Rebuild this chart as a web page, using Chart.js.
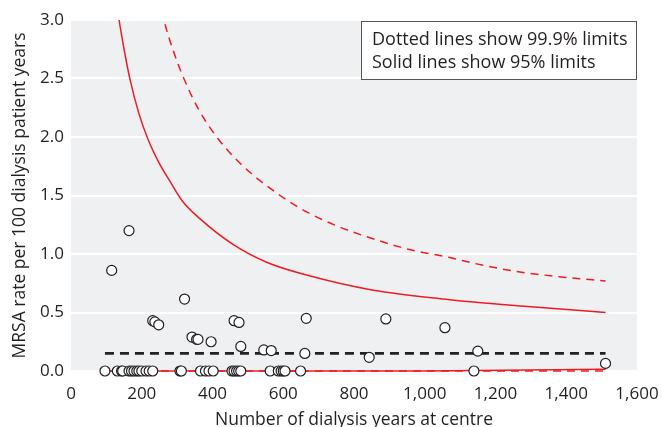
<!DOCTYPE html>
<html>
<head>
<meta charset="utf-8">
<script src="https://cdn.jsdelivr.net/npm/chart.js@4/dist/chart.umd.min.js"></script>
<style>
  body { margin: 0; background: #fff; }
  #wrap { width: 662px; height: 427px; }
</style>
</head>
<body>
<div id="wrap"><canvas id="graph1" width="662" height="427"></canvas></div>
<script>
// centres: dialysis years at centre vs MRSA rate
var centreYears = [164, 115, 321, 231, 237, 248, 342, 355, 359, 396, 461, 475, 480, 545, 566, 665, 661,
  890, 1057, 1150, 843, 1511,
  96, 131, 143, 146, 164, 171, 178, 186, 192, 200, 212, 221, 231, 308, 312, 366, 380, 390, 402,
  455, 461, 468, 474, 480, 563, 586, 594, 600, 605, 649, 1139];
var mrsaRates = [1.20, 0.86, 0.615, 0.43, 0.42, 0.395, 0.29, 0.27, 0.27, 0.25, 0.43, 0.415, 0.21, 0.18, 0.175, 0.45, 0.15,
  0.445, 0.37, 0.17, 0.117, 0.065,
  0, 0, 0, 0, 0, 0, 0, 0, 0, 0, 0, 0, 0, 0, 0, 0, 0, 0, 0,
  0, 0, 0, 0, 0, 0, 0, 0, 0, 0, 0, 0];

// overall mean
var meanYears = [96, 1511];
var meanRate = [0.15, 0.15];

// 95% limits (solid)
var years95 = [120, 136, 150, 167, 192, 219, 247, 280, 313, 365, 459, 553, 666, 855, 1071, 1137, 1300, 1511];
var upper95 = [3.35, 3.0, 2.75, 2.49, 2.20, 1.97, 1.79, 1.62, 1.46, 1.30, 1.08, 0.93, 0.82, 0.69, 0.61, 0.59, 0.55, 0.50];

// 99.9% limits (dotted)
var years999 = [250, 263, 290, 319, 360, 407, 478, 591, 666, 760, 864, 968, 1071, 1140, 1260, 1400, 1511];
var upper999 = [3.2, 3.0, 2.73, 2.50, 2.24, 2.02, 1.775, 1.50, 1.36, 1.23, 1.12, 1.03, 0.97, 0.92, 0.85, 0.80, 0.77];

// lower limits
var lowerYears = [96, 1000, 1511];
var lower95 = [0, 0, 0.015];
var lower999 = [0, 0, 0];

var legendLines = ['Dotted lines show 99.9% limits', 'Solid lines show 95% limits'];

var FONT = 'Open Sans';
var TEXT = '#231f20';
var RED = 'rgb(237, 28, 36)';

function pts(xs, ys) {
  return xs.map(function (x, i) { return {x: x, y: ys[i]}; });
}

var plotBg = {
  id: 'plotBg',
  beforeDraw: function (chart) {
    var a = chart.chartArea, c = chart.ctx;
    c.save();
    c.fillStyle = '#eff0f2';
    c.fillRect(a.left, a.top, a.right - a.left, a.bottom - a.top + 1);
    c.restore();
  }
};

var noteBox = {
  id: 'noteBox',
  afterDraw: function (chart) {
    var a = chart.chartArea, c = chart.ctx;
    c.save();
    c.fillStyle = '#fff';
    c.fillRect(361, a.top + 1, a.right - 361, 59);
    c.strokeStyle = '#555';
    c.lineWidth = 1;
    c.strokeRect(361.5, a.top + 1.5, a.right - 362, 58);
    c.fillStyle = TEXT;
    c.font = '18px "' + FONT + '"';
    c.textBaseline = 'alphabetic';
    c.fillText(legendLines[0], 372, 45);
    c.fillText(legendLines[1], 372, 68);
    c.restore();
  }
};

function showGraph() {
  var context = document.getElementById('graph1').getContext('2d');
  var lineClip = {left: 10, top: 0, right: 10, bottom: 10};
  var chart = new Chart(context, {
    type: 'scatter',
    data: {
      datasets: [{
        data: pts(centreYears, mrsaRates),
        pointRadius: 5,
        pointBorderWidth: 1.2,
        pointBorderColor: TEXT,
        pointBackgroundColor: '#fff',
        clip: false
      }, {
        data: pts(meanYears, meanRate),
        showLine: true,
        pointRadius: 0,
        borderColor: '#222',
        borderWidth: 2.8,
        borderDash: [9, 6],
        clip: lineClip
      }, {
        data: pts(years95, upper95),
        showLine: true,
        pointRadius: 0,
        borderColor: RED,
        borderWidth: 1.5,
        cubicInterpolationMode: 'monotone',
        clip: lineClip
      }, {
        data: pts(years999, upper999),
        showLine: true,
        pointRadius: 0,
        borderColor: RED,
        borderWidth: 1.5,
        borderDash: [8, 6],
        cubicInterpolationMode: 'monotone',
        clip: lineClip
      }, {
        data: pts(lowerYears, lower95),
        showLine: true,
        pointRadius: 0,
        borderColor: RED,
        borderWidth: 1.5,
        clip: lineClip
      }, {
        data: pts(lowerYears, lower999),
        showLine: true,
        pointRadius: 0,
        borderColor: RED,
        borderWidth: 1.5,
        borderDash: [8, 6],
        clip: lineClip
      }]
    },
    options: {
      responsive: false,
      animation: false,
      layout: { padding: { left: 0, top: 20, right: 25, bottom: 0 } },
      plugins: { legend: { display: false }, tooltip: { enabled: false } },
      scales: {
        x: {
          type: 'linear',
          min: 0,
          max: 1600,
          grid: { display: false, drawTicks: false },
          border: { display: false },
          ticks: {
            stepSize: 200,
            padding: 13,
            color: TEXT,
            font: { family: FONT, size: 17 },
            callback: function (v) { return v.toLocaleString('en-US'); }
          },
          title: {
            display: true,
            text: 'Number of dialysis years at centre',
            color: TEXT,
            font: { family: FONT, size: 17.5 },
            padding: { top: 0, bottom: -4 }
          },
          afterFit: function (s) { s.height = 56; s.paddingLeft = 0; s.paddingRight = 0; }
        },
        y: {
          min: 0,
          max: 3,
          grid: { color: '#fff', lineWidth: 2, drawTicks: false },
          border: { display: false },
          ticks: {
            stepSize: 0.5,
            padding: 7,
            color: TEXT,
            font: { family: FONT, size: 17 },
            callback: function (v) { return v.toFixed(1); }
          },
          title: {
            display: true,
            text: 'MRSA rate per 100 dialysis patient years',
            color: TEXT,
            font: { family: FONT, size: 17.5 },
            padding: { top: 10, bottom: 0 }
          },
          afterFit: function (s) { s.width = 71; }
        }
      }
    },
    plugins: [plotBg, noteBox]
  });
}

showGraph();
</script>
</body>
</html>
